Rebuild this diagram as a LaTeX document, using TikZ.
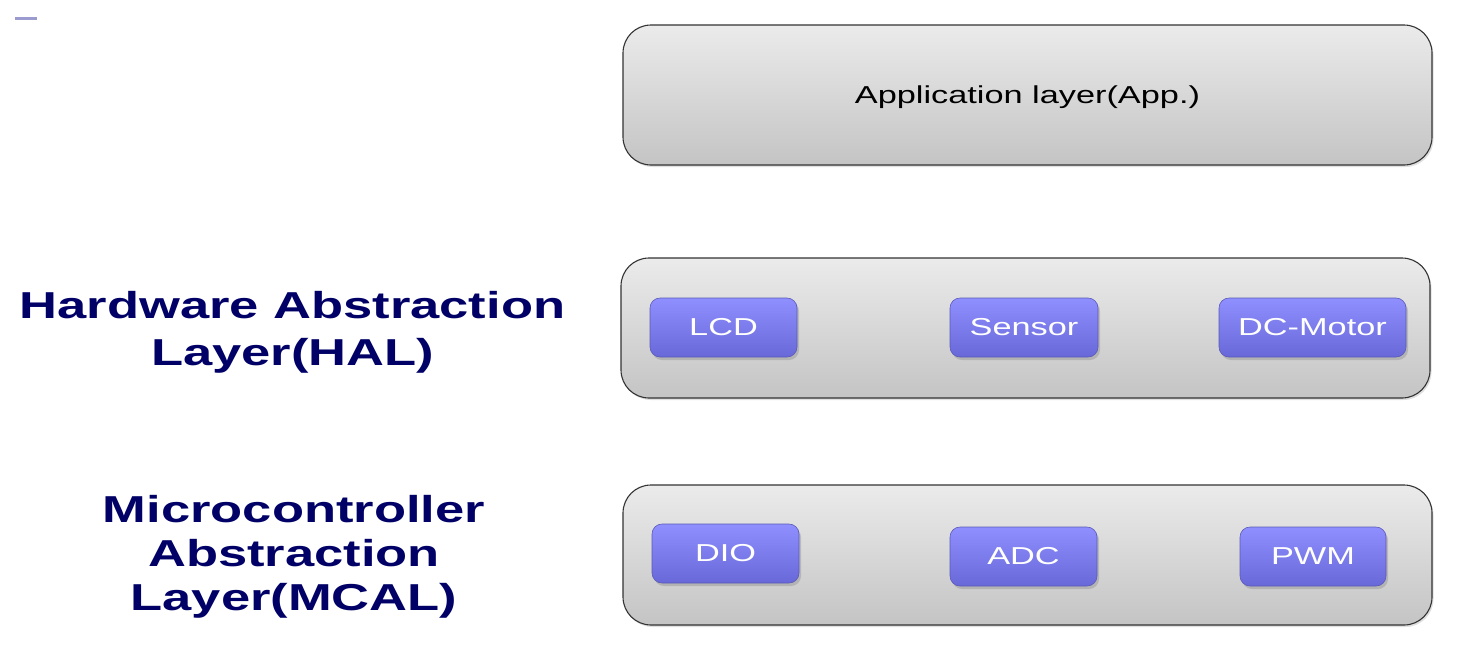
\documentclass[tikz,border=0pt]{standalone}
\usepackage{fontspec}
\setmainfont{Liberation Sans}
\usetikzlibrary{shadows}
\definecolor{navy}{HTML}{000066}
\definecolor{boxtop}{HTML}{EBEBEB}
\definecolor{boxbot}{HTML}{C4C4C4}
\definecolor{boxline}{HTML}{333333}
\definecolor{btntop}{HTML}{8F8FFF}
\definecolor{btnbot}{HTML}{6868D8}
\definecolor{btnline}{HTML}{5A5AB8}
\definecolor{dashcol}{HTML}{9B9BCF}
\newcommand{\wide}[1]{\scalebox{1.4}[1]{#1}}
\tikzset{
  layerbox/.style={rectangle, rounded corners=28pt, draw=boxline, line width=1.1pt,
    top color=boxtop, bottom color=boxbot, minimum width=809pt, minimum height=140pt,
    inner sep=0pt, drop shadow={shadow xshift=1.5pt, shadow yshift=-2pt, opacity=0.25},
    font=\fontsize{24.5pt}{28pt}\selectfont, text=black},
  modbox/.style={rectangle, rounded corners=10pt, draw=btnline, line width=0.6pt,
    top color=btntop, bottom color=btnbot, minimum height=59pt, inner sep=0pt,
    drop shadow={shadow xshift=2pt, shadow yshift=-3pt, opacity=0.35},
    font=\fontsize{24.5pt}{28pt}\selectfont, text=white},
  layerlabel/.style={font=\bfseries, text=navy, inner sep=0pt}
}
\begin{document}
\begin{tikzpicture}[x=1pt,y=-1pt]
\useasboundingbox (0,0) rectangle (1457,654);
\draw[dashcol, line width=3pt] (15,18) -- (37,18);

\node[layerbox] (app) at (1027.5,95) {};
\node[font=\fontsize{24.5pt}{28pt}\selectfont, inner sep=0pt] (apptext) at (1027.5,97) {\wide{Application layer(App.)}};
\node[layerbox] (hal) at (1025.5,328) {};
\node[layerbox] (mcal) at (1027.5,555) {};

\node[modbox, minimum width=147pt] (lcd) at (723.5,327.5) {\wide{LCD}};
\node[modbox, minimum width=148pt] (sensor) at (1024,327.5) {\wide{Sensor}};
\node[modbox, minimum width=187pt] (dcmotor) at (1312.5,327.5) {\wide{DC-Motor}};

\node[modbox, minimum width=147pt] (dio) at (725.5,553.5) {\wide{DIO}};
\node[modbox, minimum width=147pt] (adc) at (1023.5,556.5) {\wide{ADC}};
\node[modbox, minimum width=146pt] (pwm) at (1313,556.5) {\wide{PWM}};

\node[layerlabel] (hallabel) at (292.5,333) {\wide{\fontsize{37.5pt}{47pt}\selectfont\begin{tabular}{@{}c@{}}Hardware Abstraction\\Layer(HAL)\end{tabular}}};
\node[layerlabel] (mcallabel) at (294,558) {\wide{\fontsize{37.5pt}{44pt}\selectfont\begin{tabular}{@{}c@{}}Microcontroller\\Abstraction\\Layer(MCAL)\end{tabular}}};
\end{tikzpicture}
\end{document}
